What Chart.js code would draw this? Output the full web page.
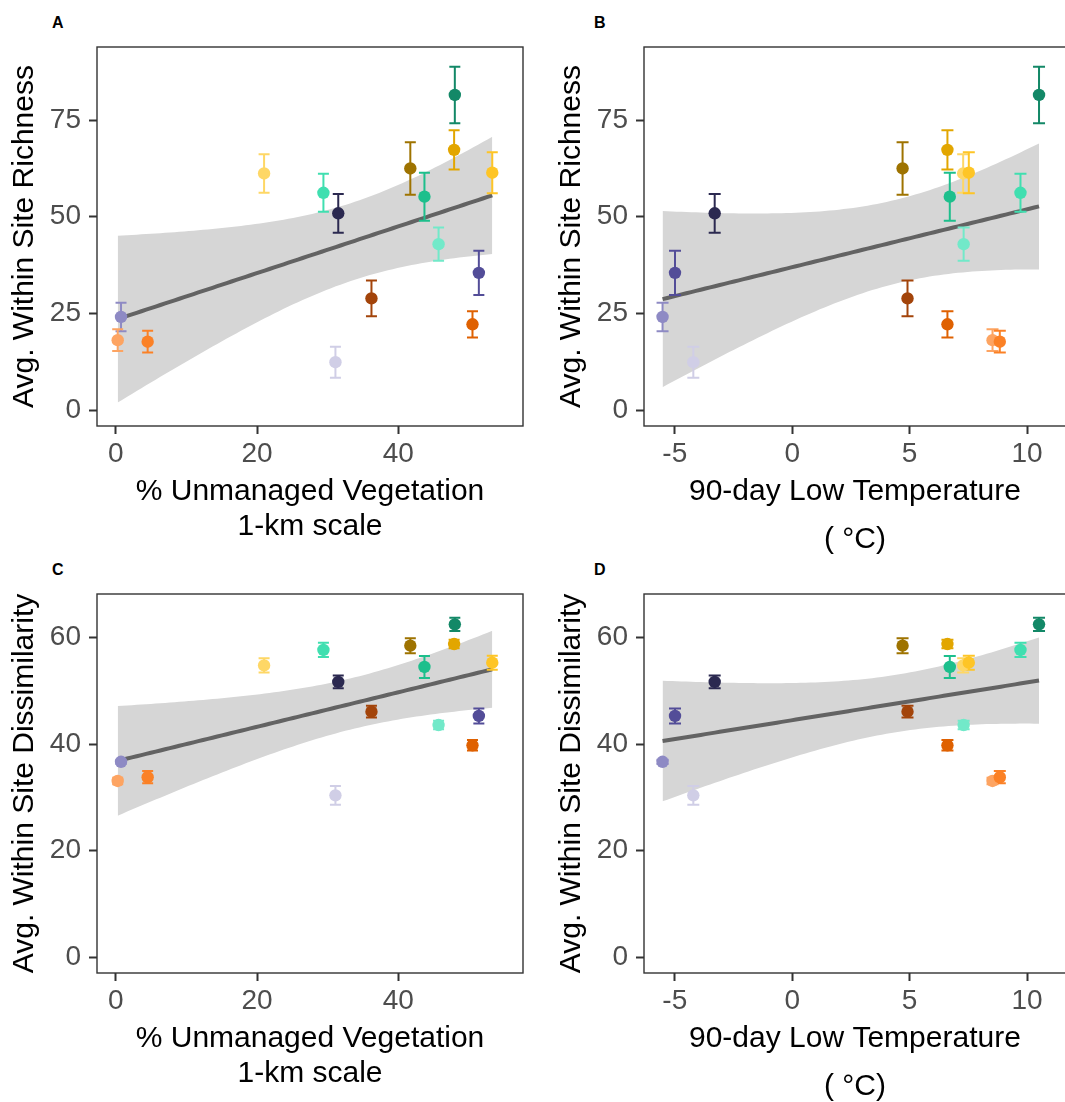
<!DOCTYPE html>
<html lang="en">
<head>
<meta charset="UTF-8">
<title>Within-site richness and dissimilarity</title>
<script src="https://cdn.jsdelivr.net/npm/chart.js@4.4.1/dist/chart.umd.min.js"></script>
<style>
  html,body{margin:0;padding:0;background:#fff;overflow:hidden}
  body{width:1065px;height:1102px;position:relative}
  canvas{position:absolute}
  .tag{position:absolute;font:bold 16px 'Liberation Sans',Arial,sans-serif;line-height:16px;color:#000}
</style>
</head>
<body>
<div class="tag" style="left:52px;top:15px">A</div>
<div class="tag" style="left:594px;top:15px">B</div>
<div class="tag" style="left:52px;top:562px">C</div>
<div class="tag" style="left:594px;top:562px">D</div>

<canvas id="cA" width="532" height="600" style="left:0;top:0"></canvas>
<canvas id="cB" width="540" height="600" style="left:532px;top:0"></canvas>
<canvas id="cC" width="532" height="600" style="left:0;top:547px"></canvas>
<canvas id="cD" width="540" height="600" style="left:532px;top:547px"></canvas>

<script>
// one entry per site
const sites = ['s01','s02','s03','s04','s05','s06','s07','s08','s09','s10','s11','s12','s13','s14','s15','s16'];
const siteColors = ['#8E8AC4','#FDA462','#FB8126','#FED766','#40DFB0','#2B2950','#D0CEE6','#A3440A',
                    '#9E7300','#1DBF8C','#72E9C9','#138867','#E2A600','#534D98','#DF6101','#FEC526'];

// x variables
const vegCover = [0.75, 0.28, 4.52, 21.0, 29.4, 31.5, 31.1, 36.2, 41.7, 43.7, 45.7, 48.0, 47.9, 51.4, 50.5, 53.3];
const lowTemp  = [-5.52, 8.53, 8.84, 7.28, 9.72, -3.30, -4.21, 4.91, 4.70, 6.71, 7.30, 10.51, 6.61, -4.99, 6.61, 7.52];

// responses (mean +/- se)
const richness   = [24.1, 18.1, 17.7, 61.2, 56.2, 50.9, 12.4, 28.9, 62.5, 55.2, 42.9, 81.5, 67.3, 35.5, 22.2, 61.4];
const richnessSE = [3.7, 2.8, 2.8, 5.0, 4.9, 5.0, 4.0, 4.6, 6.8, 6.2, 4.3, 7.3, 5.1, 5.7, 3.4, 5.3];
const dissim     = [36.7, 33.1, 33.8, 54.8, 57.7, 51.7, 30.4, 46.1, 58.5, 54.5, 43.6, 62.5, 58.8, 45.3, 39.8, 55.3];
const dissimSE   = [0.4, 0.6, 1.15, 1.35, 1.35, 1.2, 1.75, 1.1, 1.4, 2.05, 0.8, 1.25, 0.8, 1.4, 1.0, 1.3];

// axis ticks
const vegTicks  = [0, 20, 40];
const tempTicks = [-5, 0, 5, 10];
const richTicks = [0, 25, 50, 75];
const dissTicks = [0, 20, 40, 60];

const FONT = "'Liberation Sans', Arial, sans-serif";

// ordinary least squares + 95% confidence band (like geom_smooth(method = 'lm'))
function lmFit(xs, ys, steps = 80) {
  const n = xs.length;
  const mx = xs.reduce((a, b) => a + b, 0) / n;
  const my = ys.reduce((a, b) => a + b, 0) / n;
  let sxx = 0, sxy = 0;
  xs.forEach((x, i) => { sxx += (x - mx) ** 2; sxy += (x - mx) * (ys[i] - my); });
  const slope = sxy / sxx, icpt = my - slope * mx;
  let sse = 0;
  xs.forEach((x, i) => { sse += (ys[i] - icpt - slope * x) ** 2; });
  const s = Math.sqrt(sse / (n - 2));
  const tq = 2.1448; // qt(0.975, df = 14)
  const lo = Math.min(...xs), hi = Math.max(...xs);
  const fit = [], upper = [], lower = [];
  for (let k = 0; k < steps; k++) {
    const x = lo + (hi - lo) * k / (steps - 1);
    const yh = icpt + slope * x;
    const se = s * Math.sqrt(1 / n + (x - mx) ** 2 / sxx);
    fit.push({ x, y: yh });
    upper.push({ x, y: yh + tq * se });
    lower.push({ x, y: yh - tq * se });
  }
  return { fit, upper, lower };
}

const panelFrame = {
  id: 'panelFrame',
  afterDraw(chart) {
    const { ctx, chartArea: a } = chart;
    ctx.save();
    ctx.strokeStyle = '#333333';
    ctx.lineWidth = 1.4;
    ctx.strokeRect(a.left, a.top, a.right - a.left, a.bottom - a.top);
    ctx.restore();
  }
};

const errorBars = {
  id: 'errorBars',
  beforeDatasetDraw(chart, args, opts) {
    if (args.index !== 0) return;
    const ds = chart.data.datasets[0];
    const { ctx, scales: { x, y } } = chart;
    const w = opts.cap || 5.5;
    ctx.save();
    ctx.lineWidth = 2;
    ds.data.forEach((p, i) => {
      const px = x.getPixelForValue(p.x);
      const lo = y.getPixelForValue(p.y - p.se), hi = y.getPixelForValue(p.y + p.se);
      ctx.strokeStyle = ds.backgroundColor[i];
      ctx.beginPath();
      ctx.moveTo(px, lo); ctx.lineTo(px, hi);
      ctx.moveTo(px - w, lo); ctx.lineTo(px + w, lo);
      ctx.moveTo(px - w, hi); ctx.lineTo(px + w, hi);
      ctx.stroke();
    });
    ctx.restore();
  }
};

function makePanel(id, cfg) {
  const { xs, ys, se, xTicks, yTicks, xMin, xMax, yMin, yMax, xTitle, yTitle,
          plot, width, titleLine, titleBottom, yTitleLeft, cap } = cfg;
  const band = lmFit(xs, ys);
  const pts = xs.map((x, i) => ({ x, y: ys[i], se: se[i] }));
  const height = 600;

  new Chart(document.getElementById(id), {
    type: 'scatter',
    data: {
      datasets: [
        { data: pts, backgroundColor: siteColors, borderWidth: 0, pointRadius: 6.2, pointHoverRadius: 6.2 },
        { type: 'line', data: band.fit, borderColor: '#636363', borderWidth: 4, pointRadius: 0, fill: false, tension: 0 },
        { type: 'line', data: band.lower, borderWidth: 0, borderColor: 'rgba(0,0,0,0)', pointRadius: 0, fill: false },
        { type: 'line', data: band.upper, borderWidth: 0, borderColor: 'rgba(0,0,0,0)', pointRadius: 0, fill: '-1', backgroundColor: '#D6D6D6' }
      ]
    },
    options: {
      responsive: false,
      animation: false,
      events: [],
      layout: { padding: { left: 0, top: plot.top, right: width - plot.right, bottom: 0 } },
      plugins: { legend: { display: false }, tooltip: { enabled: false }, errorBars: { cap } },
      scales: {
        x: {
          type: 'linear', min: xMin, max: xMax,
          afterBuildTicks: s => { s.ticks = xTicks.map(v => ({ value: v })); },
          afterFit: s => { s.height = height - plot.bottom; },
          ticks: { color: '#4D4D4D', font: { size: 28, family: FONT }, padding: 3, maxRotation: 0, autoSkip: false },
          grid: { drawOnChartArea: false, tickLength: 8, tickColor: '#333333', tickWidth: 2 },
          border: { display: false },
          title: { display: true, text: xTitle, color: '#000', font: { size: 30, family: FONT, lineHeight: titleLine + 'px' },
                   padding: { top: 0, bottom: titleBottom } }
        },
        y: {
          type: 'linear', min: yMin, max: yMax,
          afterBuildTicks: s => { s.ticks = yTicks.map(v => ({ value: v })); },
          afterFit: s => { s.width = plot.left; },
          ticks: { color: '#4D4D4D', font: { size: 28, family: FONT }, padding: 8 },
          grid: { drawOnChartArea: false, tickLength: 8, tickColor: '#333333', tickWidth: 2 },
          border: { display: false },
          title: { display: true, text: yTitle, color: '#000', font: { size: 30, family: FONT, lineHeight: '36px' },
                   padding: { top: yTitleLeft, bottom: 0 } }
        }
      }
    },
    plugins: [panelFrame, errorBars]
  });
}

const vegTitle = ['% Unmanaged Vegetation', '1-km scale'];
const tempTitle = ['90-day Low Temperature', '( °C)'];
const leftPlot = { left: 97, right: 523, top: 47, bottom: 426 };
const rightPlot = { left: 112, right: 534, top: 47, bottom: 426 };

makePanel('cA', { xs: vegCover, ys: richness, se: richnessSE, xTicks: vegTicks, yTicks: richTicks,
  xMin: -2.65, xMax: 57.65, yMin: -4.1, yMax: 93.9, xTitle: vegTitle, yTitle: 'Avg. Within Site Richness',
  plot: leftPlot, width: 532, titleLine: 35, titleBottom: 55.5, yTitleLeft: 7, cap: 5.5 });

makePanel('cB', { xs: lowTemp, ys: richness, se: richnessSE, xTicks: tempTicks, yTicks: richTicks,
  xMin: -6.31, xMax: 11.65, yMin: -4.1, yMax: 93.9, xTitle: tempTitle, yTitle: 'Avg. Within Site Richness',
  plot: rightPlot, width: 540, titleLine: 48, titleBottom: 36, yTitleLeft: 22, cap: 6 });

makePanel('cC', { xs: vegCover, ys: dissim, se: dissimSE, xTicks: vegTicks, yTicks: dissTicks,
  xMin: -2.65, xMax: 57.65, yMin: -2.95, yMax: 68.2, xTitle: vegTitle, yTitle: 'Avg. Within Site Dissimilarity',
  plot: leftPlot, width: 532, titleLine: 35, titleBottom: 55.5, yTitleLeft: 7, cap: 5.5 });

makePanel('cD', { xs: lowTemp, ys: dissim, se: dissimSE, xTicks: tempTicks, yTicks: dissTicks,
  xMin: -6.31, xMax: 11.65, yMin: -2.95, yMax: 68.2, xTitle: tempTitle, yTitle: 'Avg. Within Site Dissimilarity',
  plot: rightPlot, width: 540, titleLine: 48, titleBottom: 36, yTitleLeft: 22, cap: 6 });
</script>
</body>
</html>
